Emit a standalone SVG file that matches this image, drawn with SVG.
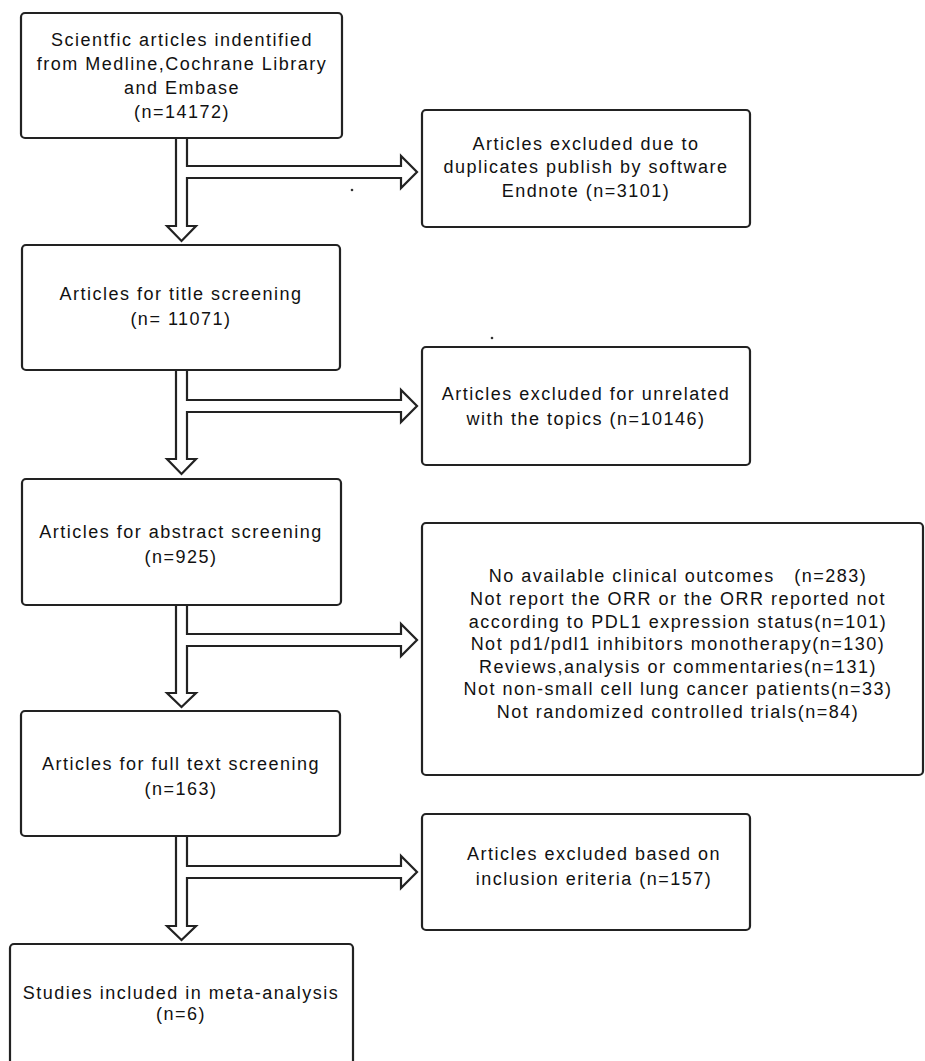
<svg xmlns="http://www.w3.org/2000/svg" width="925" height="1061" viewBox="0 0 925 1061">
<style>
.box{fill:#fff;stroke:#222;stroke-width:2.2}
.t{font-family:"Liberation Sans",Arial,sans-serif;font-size:18px;letter-spacing:1.5px;fill:#111;text-anchor:middle}
.arr{fill:#fff;stroke:#222;stroke-width:2.2;stroke-linejoin:miter}
</style>
<rect width="925" height="1061" fill="#fff"/>
<g id="connectors">
<path class="arr" d="M176,138 L176,226 L167,226 L181.5,241 L196,226 L187,226 L187,178 L401,178 L401,188 L417,172 L401,156 L401,166 L187,166 L187,138"/>
<path class="arr" d="M176,370 L176,459 L167,459 L181.5,474 L196,459 L187,459 L187,412 L401,412 L401,422 L417,406 L401,390 L401,400 L187,400 L187,370"/>
<path class="arr" d="M176,605 L176,693 L167,693 L181.5,707 L196,693 L187,693 L187,646 L401,646 L401,656 L417,640 L401,624 L401,634 L187,634 L187,605"/>
<path class="arr" d="M176,836 L176,926 L167,926 L181.5,940 L196,926 L187,926 L187,878 L401,878 L401,888 L417,872 L401,856 L401,866 L187,866 L187,836"/>
</g>
<g id="n1">
<rect class="box" x="21" y="13" width="321" height="125" rx="4"/>
<text class="t" x="182" y="46">Scientfic articles indentified</text>
<text class="t" x="182" y="70">from Medline,Cochrane Library</text>
<text class="t" x="182" y="94">and Embase</text>
<text class="t" x="182" y="118">(n=14172)</text>
</g>
<g id="n2">
<rect class="box" x="422" y="110" width="328" height="117" rx="4"/>
<text class="t" x="586" y="150">Articles excluded due to</text>
<text class="t" x="586" y="173">duplicates publish by software</text>
<text class="t" x="586" y="197">Endnote (n=3101)</text>
</g>
<g id="n3">
<rect class="box" x="22" y="245" width="318" height="125" rx="4"/>
<text class="t" x="181" y="300">Articles for title screening</text>
<text class="t" x="181" y="325">(n= 11071)</text>
</g>
<g id="n4">
<rect class="box" x="422" y="347" width="328" height="118" rx="4"/>
<text class="t" x="586" y="400">Articles excluded for unrelated</text>
<text class="t" x="586" y="425">with the topics (n=10146)</text>
</g>
<g id="n5">
<rect class="box" x="22" y="479" width="319" height="126" rx="4"/>
<text class="t" x="181" y="538">Articles for abstract screening</text>
<text class="t" x="181" y="563">(n=925)</text>
</g>
<g id="n6">
<rect class="box" x="422" y="523" width="501" height="252" rx="4"/>
<text class="t" x="678" y="582" xml:space="preserve">No available clinical outcomes   (n=283)</text>
<text class="t" x="678" y="605">Not report the ORR or the ORR reported not</text>
<text class="t" x="678" y="628">according to PDL1 expression status(n=101)</text>
<text class="t" x="678" y="650">Not pd1/pdl1 inhibitors monotherapy(n=130)</text>
<text class="t" x="678" y="673">Reviews,analysis or commentaries(n=131)</text>
<text class="t" x="678" y="695">Not non-small cell lung cancer patients(n=33)</text>
<text class="t" x="678" y="718">Not randomized controlled trials(n=84)</text>
</g>
<g id="n7">
<rect class="box" x="21" y="711" width="319" height="125" rx="4"/>
<text class="t" x="181" y="770">Articles for full text screening</text>
<text class="t" x="181" y="795">(n=163)</text>
</g>
<g id="n8">
<rect class="box" x="422" y="814" width="328" height="116" rx="4"/>
<text class="t" x="594" y="860">Articles excluded based on</text>
<text class="t" x="594" y="885">inclusion eriteria (n=157)</text>
</g>
<g id="n9">
<rect class="box" x="10" y="944" width="343" height="130" rx="4"/>
<text class="t" x="181" y="999">Studies included in meta-analysis</text>
<text class="t" x="181" y="1020">(n=6)</text>
</g>
<circle cx="352" cy="190" r="1.3" fill="#333"/>
<circle cx="492" cy="338" r="1.3" fill="#333"/>
</svg>
